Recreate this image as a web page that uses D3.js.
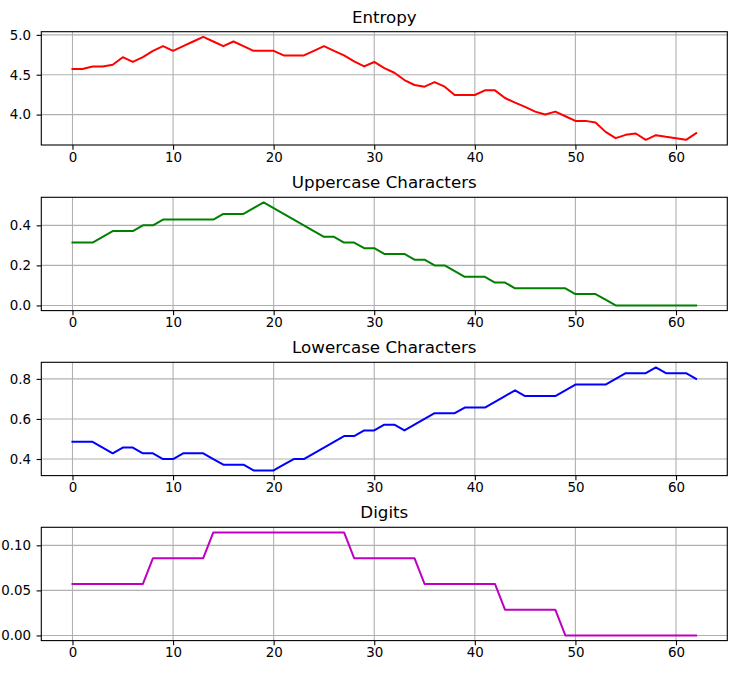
<!DOCTYPE html>
<html>
<head>
<meta charset="utf-8">
<script src="https://cdn.jsdelivr.net/npm/d3@7"></script>
<style>
  body { margin: 0; background: #fff; }
  svg { display: block; }
  text { font-family: "DejaVu Sans", sans-serif; fill: #000; }
</style>
</head>
<body>
<svg id="chart" width="738" height="673"></svg>
<script>
// ---- data (one value per step, 0..62) ----
const steps = d3.range(0, 63);

const entropy = [
  4.571, 4.571, 4.604, 4.604, 4.625, 4.72, 4.66, 4.72, 4.80, 4.858,
  4.80, 4.858, 4.917, 4.975, 4.917, 4.858, 4.917, 4.858, 4.80, 4.80,
  4.80, 4.742, 4.742, 4.742, 4.80, 4.858, 4.80, 4.742, 4.667, 4.604,
  4.66, 4.583, 4.525, 4.433, 4.371, 4.35, 4.408, 4.35, 4.246, 4.246,
  4.246, 4.304, 4.304, 4.208, 4.15, 4.096, 4.0375, 4.0, 4.0375, 3.979,
  3.921, 3.921, 3.90, 3.783, 3.704, 3.746, 3.7625, 3.683, 3.742, 3.721,
  3.704, 3.683, 3.767
];

// counts out of 35 characters
const upperCounts = [
  11, 11, 11, 12, 13, 13, 13, 14, 14, 15,
  15, 15, 15, 15, 15, 16, 16, 16, 17, 18,
  17, 16, 15, 14, 13, 12, 12, 11, 11, 10,
  10, 9, 9, 9, 8, 8, 7, 7, 6, 5,
  5, 5, 4, 4, 3, 3, 3, 3, 3, 3,
  2, 2, 2, 1, 0, 0, 0, 0, 0, 0,
  0, 0, 0
];
const lowerCounts = [
  17, 17, 17, 16, 15, 16, 16, 15, 15, 14,
  14, 15, 15, 15, 14, 13, 13, 13, 12, 12,
  12, 13, 14, 14, 15, 16, 17, 18, 18, 19,
  19, 20, 20, 19, 20, 21, 22, 22, 22, 23,
  23, 23, 24, 25, 26, 25, 25, 25, 25, 26,
  27, 27, 27, 27, 28, 29, 29, 29, 30, 29,
  29, 29, 28
];
const digitCounts = [
  2, 2, 2, 2, 2, 2, 2, 2, 3, 3,
  3, 3, 3, 3, 4, 4, 4, 4, 4, 4,
  4, 4, 4, 4, 4, 4, 4, 4, 3, 3,
  3, 3, 3, 3, 3, 2, 2, 2, 2, 2,
  2, 2, 2, 1, 1, 1, 1, 1, 1, 0,
  0, 0, 0, 0, 0, 0, 0, 0, 0, 0,
  0, 0, 0
];
const totalChars = 35;
const uppercase = upperCounts.map(c => c / totalChars);
const lowercase = lowerCounts.map(c => c / totalChars);
const digits = digitCounts.map(c => c / totalChars);

const titles = ["Entropy", "Uppercase Characters", "Lowercase Characters", "Digits"];
const colors = ["#ff0000", "#008000", "#0000ff", "#bf00bf"];
const xTicks = [0, 10, 20, 30, 40, 50, 60];
const yTicks = [[4.0, 4.5, 5.0], [0.0, 0.2, 0.4], [0.4, 0.6, 0.8], [0.00, 0.05, 0.10]];
const yFormats = [".1f", ".1f", ".1f", ".2f"];
const series = [entropy, uppercase, lowercase, digits];

// ---- layout ----
const svg = d3.select("#chart");
const left = 41.3, right = 727.3;
const tops = [31.7, 197.3, 362.3, 527.3];
const plotH = 113.3;

const xMin = d3.min(steps), xMax = d3.max(steps);
const xPad = (xMax - xMin) * 0.05;
const x = d3.scaleLinear().domain([xMin - xPad, xMax + xPad]).range([left, right]);

series.forEach((vals, k) => {
  const top = tops[k], bottom = top + plotH;
  const lo = d3.min(vals), hi = d3.max(vals);
  const pad = (hi - lo) * 0.05;
  const y = d3.scaleLinear().domain([lo - pad, hi + pad]).range([bottom, top]);

  const g = svg.append("g");

  // grid
  g.selectAll(".vg").data(xTicks).enter().append("line")
    .attr("x1", d => x(d)).attr("x2", d => x(d))
    .attr("y1", top).attr("y2", bottom)
    .attr("stroke", "#b0b0b0").attr("stroke-width", 1.1);
  g.selectAll(".hg").data(yTicks[k]).enter().append("line")
    .attr("x1", left).attr("x2", right)
    .attr("y1", d => y(d)).attr("y2", d => y(d))
    .attr("stroke", "#b0b0b0").attr("stroke-width", 1.1);

  // line
  const line = d3.line().x((d, i) => x(steps[i])).y(d => y(d));
  g.append("path").datum(vals)
    .attr("d", line)
    .attr("fill", "none")
    .attr("stroke", colors[k])
    .attr("stroke-width", 2.0)
    .attr("stroke-linejoin", "round")
    .attr("stroke-linecap", "square");

  // axes
  const xAxis = d3.axisBottom(x).tickValues(xTicks).tickSize(4.7).tickPadding(2.6)
    .tickFormat(d3.format("d"));
  const xa = g.append("g").attr("transform", `translate(0,${bottom})`).call(xAxis);
  const yAxis = d3.axisLeft(y).tickValues(yTicks[k]).tickSize(4.7).tickPadding(5.6)
    .tickFormat(d3.format(yFormats[k]));
  const ya = g.append("g").attr("transform", `translate(${left},0)`).call(yAxis);
  [xa, ya].forEach(a => {
    a.select(".domain").remove();
    a.selectAll(".tick line").attr("stroke", "#000").attr("stroke-width", 1.1);
    a.selectAll(".tick text")
      .style("font-family", "'DejaVu Sans', sans-serif")
      .style("font-size", "13.4px").attr("fill", "#000");
  });

  // frame
  g.append("rect")
    .attr("x", left).attr("y", top)
    .attr("width", right - left).attr("height", plotH)
    .attr("fill", "none").attr("stroke", "#000").attr("stroke-width", 1.1);

  // title
  g.append("text")
    .attr("x", (left + right) / 2).attr("y", top - 9.2)
    .attr("text-anchor", "middle")
    .style("font-size", "16.7px")
    .text(titles[k]);
});
</script>
</body>
</html>
